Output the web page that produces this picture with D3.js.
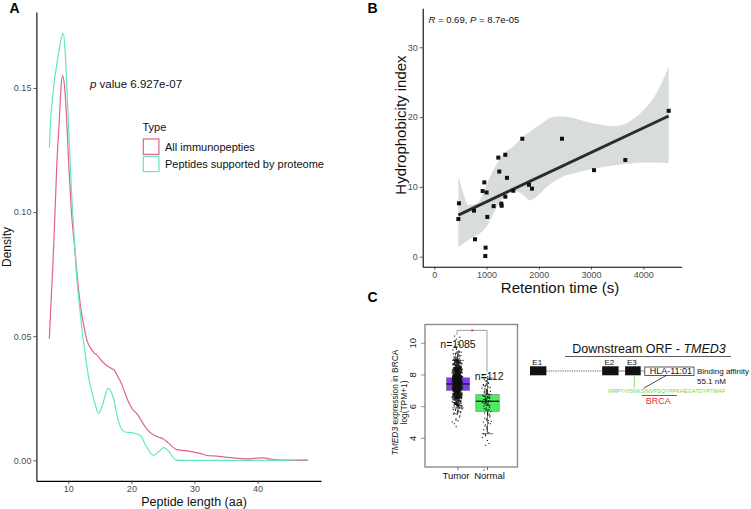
<!DOCTYPE html>
<html><head><meta charset="utf-8">
<script src="https://cdn.jsdelivr.net/npm/d3@7"></script>
<style>body{margin:0;background:#fff;} svg{display:block;font-family:"Liberation Sans",Arial,sans-serif;}</style>
</head><body><svg id="c" width="751" height="509"></svg>
<script>
// ---------- Panel A data ----------
const allLen = [7,7.3,7.6,7.9,8.2,8.58,8.85,9.1,9.4,9.75,10.1,10.5,11.06,11.5,12.0,12.4,13.0,13.4,14.0,14.7,15.3,16.0,16.7,17.3,17.8,18.4,19.0,19.5,20.2,20.8,21.3,21.8,22.5,23.4,24.2,25.0,25.6,26.1,26.6,27.1,28.0,28.7,29.5,30.3,31.1,31.9,32.7,33.5,34.8,36.1,37.5,38.8,40.0,40.9,41.7,42.5,44,46,48];
const allDensity = [0.049,0.065,0.081,0.100,0.120,0.137,0.150,0.155,0.151,0.137,0.118,0.100,0.0845,0.072,0.061,0.0552,0.048,0.0458,0.0435,0.042,0.040,0.0384,0.0372,0.0362,0.034,0.031,0.027,0.0238,0.0205,0.019,0.0172,0.015,0.0125,0.0104,0.0094,0.0087,0.0076,0.0064,0.0052,0.0044,0.0040,0.0038,0.0035,0.0031,0.0026,0.0020,0.0018,0.0017,0.0013,0.0010,0.0007,0.0006,0.0009,0.0010,0.0007,0.0003,0.0001,0.0,0.0];
const protLen = [7,7.2,7.47,7.8,8.16,8.6,9.0,9.2,9.5,9.75,10.0,10.3,10.6,10.75,11.06,11.4,11.8,12.2,12.6,13.0,13.4,13.8,14.2,14.8,15.5,16.3,17.1,17.9,18.9,20.3,21.4,22.4,23.5,24.3,25.1,26.0,27.0,28.0,35,42,48];
const protDensity = [0.126,0.137,0.145,0.153,0.159,0.166,0.171,0.172,0.165,0.152,0.137,0.120,0.104,0.098,0.0845,0.072,0.062,0.052,0.0445,0.037,0.031,0.027,0.023,0.019,0.023,0.029,0.0256,0.0162,0.0115,0.011,0.0101,0.0054,0.0020,0.0034,0.0051,0.0034,0.0002,0.0,0.0,0.0,0.0003];
const typeLabels = ["All immunopepties", "Peptides supported by proteome"];
const densityTicks = [0, 0.05, 0.10, 0.15];
const lengthTicks = [10, 20, 30, 40];

// ---------- Panel B data ----------
const retentionTime = [460,472,760,779,925,957,976,982,1001,1014,1136,1225,1244,1282,1289,1359,1359,1391,1512,1684,1812,1870,2444,3057,3656,4486];
const hydrophobicity = [5.4,7.65,6.6,2.5,9.4,10.65,0.1,1.3,9.2,5.7,7.25,14.2,12.2,7.6,7.3,14.6,8.6,11.3,9.45,16.9,10.3,9.75,16.9,12.4,13.85,20.9];
const fitTime = [460, 4486];
const fitIndex = [5.97, 20.16];
const bandTime = [460,560,650,760,875,1000,1160,1320,1512,1700,1830,1960,2150,2300,2470,2700,2920,3200,3430,3700,3940,4250,4486];
const bandLow  = [1.4,1.9,2.4,2.9,3.35,4.3,6.6,8.5,9.5,8.85,8.1,8.6,10.0,10.8,11.5,12.0,12.4,12.8,13.1,13.3,13.5,13.5,13.4];
const bandHigh = [11.6,9.0,7.4,7.5,8.1,10.3,12.8,14.7,15.8,17.2,17.9,18.6,19.6,20.05,20.1,19.8,19.3,18.9,18.7,19.2,20.5,23.4,27.2];
const timeTicks = [0, 1000, 2000, 3000, 4000];
const indexTicks = [0, 10, 20, 30];

// ---------- Panel C data ----------
const groups = ["Tumor", "Normal"];
const groupN = [1085, 112];
const boxQ1 = [7.02, 5.70];
const boxMedian = [7.43, 6.34];
const boxQ3 = [7.82, 6.76];
const whiskerLow = [5.92, 4.29];
const whiskerHigh = [8.92, 7.8];
const binStart = [2,2.5,3,3.5,4,4.5,5,5.5,6,6.5,7,7.5,8,8.5,9,9.5,10];
const tumorCounts  = [0,0,0,0,0,2,6,20,60,160,290,280,160,70,25,8,4];
const normalCounts = [1,0,0,3,6,8,9,14,24,25,14,8,0,0,0,0,0];
const exprTicks = [4, 6, 8, 10];
const exonNames = ["E1", "E2", "E3"];
const exonStart = [0, 44, 58];
const exonEnd = [10, 54, 67.5];
const hlaAllele = "HLA-11:01";
const peptideSeq = "MRPYVISNKSINVPSQYPPKHEGATDYPTWAF";

// ---------- drawing ----------
const svg = d3.select("#c");
const FONT = '"Liberation Sans", Arial, sans-serif';
const red = "#e4628a", cyan = "#62e6c6";

// ===== Panel A =====
const xA = d3.scaleLinear().domain([4.95, 50.05]).range([36.4, 321]);
const yA = d3.scaleLinear().domain([-0.0083, 0.1806]).range([480.9, 12]);
const gA = svg.append("g");
function styleAxis(g) {
  g.select(".domain").attr("stroke", "#000").attr("stroke-width", 1.1);
  g.selectAll(".tick line").attr("stroke", "#333").attr("stroke-width", 0.8);
  g.selectAll(".tick text").attr("fill", "#4d4d4d").style("font-size", "9px").style("font-family", FONT);
}
gA.append("g").attr("transform", "translate(36.4,0)")
  .call(d3.axisLeft(yA).tickValues(densityTicks).tickFormat(d3.format(".2f")).tickSize(3).tickSizeOuter(0).tickPadding(2))
  .call(styleAxis);
gA.append("g").attr("transform", "translate(0,480.9)")
  .call(d3.axisBottom(xA).tickValues(lengthTicks).tickFormat(d3.format("d")).tickSize(3).tickSizeOuter(0).tickPadding(2))
  .call(styleAxis);
const lineA = d3.line().curve(d3.curveMonotoneX);
gA.append("path").attr("d", lineA(allLen.map((v, i) => [xA(v), yA(allDensity[i])])))
  .attr("fill", "none").attr("stroke", red).attr("stroke-width", 1.2);
gA.append("path").attr("d", lineA(protLen.map((v, i) => [xA(v), yA(protDensity[i])])))
  .attr("fill", "none").attr("stroke", cyan).attr("stroke-width", 1.2);
const pText = gA.append("text").attr("x", 90).attr("y", 87.5).style("font-size", "11.5px").attr("fill", "#111");
pText.append("tspan").style("font-style", "italic").text("p");
pText.append("tspan").text(" value 6.927e-07");
gA.append("text").attr("x", 142.5).attr("y", 131).style("font-size", "11px").attr("fill", "#111").text("Type");
[red, cyan].forEach((c, i) => {
  gA.append("rect").attr("x", 143.3).attr("y", 139 + i * 17.3).attr("width", 15.6).attr("height", 15.3)
    .attr("fill", "#fff").attr("stroke", c).attr("stroke-width", 1.2);
  gA.append("text").attr("x", 165).attr("y", 150.5 + i * 17.3).style("font-size", "11px").attr("fill", "#111").text(typeLabels[i]);
});
gA.append("text").attr("transform", "translate(10.5,247) rotate(-90)").attr("text-anchor", "middle")
  .style("font-size", "12px").attr("fill", "#111").text("Density");
gA.append("text").attr("x", 194).attr("y", 506).attr("text-anchor", "middle")
  .style("font-size", "12.5px").attr("fill", "#111").text("Peptide length (aa)");
svg.append("text").attr("x", 9.5).attr("y", 12.5).style("font-size", "14px").style("font-weight", "bold").text("A");

// ===== Panel B =====
const xB = d3.scaleLinear().domain([-222, 4735]).range([422.7, 681.7]);
const yB = d3.scaleLinear().domain([-1.43, 35.6]).range([266.7, 8.2]);
const gB = svg.append("g");
gB.append("path")
  .attr("d", d3.area().curve(d3.curveMonotoneX).x((d, i) => xB(d)).y0((d, i) => yB(bandLow[i])).y1((d, i) => yB(bandHigh[i]))(bandTime))
  .attr("fill", "#d8dcdc");
gB.append("line").attr("x1", xB(fitTime[0])).attr("y1", yB(fitIndex[0])).attr("x2", xB(fitTime[1])).attr("y2", yB(fitIndex[1]))
  .attr("stroke", "#2b2b2b").attr("stroke-width", 3);
gB.selectAll("rect.pt").data(retentionTime).join("rect").attr("class", "pt")
  .attr("x", d => xB(d) - 2).attr("y", (d, i) => yB(hydrophobicity[i]) - 2).attr("width", 4).attr("height", 4).attr("fill", "#111");
gB.append("g").attr("transform", "translate(422.7,0)")
  .call(d3.axisLeft(yB).tickValues(indexTicks).tickFormat(d3.format("d")).tickSize(3).tickSizeOuter(0).tickPadding(2)).call(styleAxis);
gB.append("g").attr("transform", "translate(0,266.7)")
  .call(d3.axisBottom(xB).tickValues(timeTicks).tickFormat(d3.format("d")).tickSize(3).tickSizeOuter(0).tickPadding(2)).call(styleAxis);
const rText = gB.append("text").attr("x", 428.5).attr("y", 23).style("font-size", "9.5px").attr("fill", "#111");
rText.append("tspan").style("font-style", "italic").text("R");
rText.append("tspan").text(" = 0.69, ");
rText.append("tspan").style("font-style", "italic").text("P");
rText.append("tspan").text(" = 8.7e-05");
gB.append("text").attr("transform", "translate(406,125) rotate(-90)").attr("text-anchor", "middle")
  .style("font-size", "15px").attr("fill", "#111").text("Hydrophobicity index");
gB.append("text").attr("x", 560).attr("y", 293).attr("text-anchor", "middle")
  .style("font-size", "15px").attr("fill", "#111").text("Retention time (s)");
svg.append("text").attr("x", 367.5).attr("y", 12.5).style("font-size", "14px").style("font-weight", "bold").text("B");
svg.append("text").attr("x", 367.5).attr("y", 302).style("font-size", "14px").style("font-weight", "bold").text("C");

// ===== Panel C: box plot =====
const gC = svg.append("g");
const yC = d3.scaleLinear().domain([4, 10]).range([438.3, 343.3]);
const xC = d3.scalePoint().domain(groups).range([458, 487.5]);
const boxFill = ["#7c3ff0", "#4cec62"];
const boxW = 23.4;
gC.append("rect").attr("x", 425).attr("y", 324.5).attr("width", 92.5).attr("height", 142.5)
  .attr("fill", "#fff").attr("stroke", "#8c8c8c").attr("stroke-width", 1.4);
exprTicks.forEach(t => {
  gC.append("line").attr("x1", 421).attr("x2", 425).attr("y1", yC(t)).attr("y2", yC(t)).attr("stroke", "#666").attr("stroke-width", 0.7);
  gC.append("text").attr("transform", `translate(415.5,${yC(t)}) rotate(-90)`).attr("text-anchor", "middle")
    .style("font-size", "9.5px").attr("fill", "#222").text(t);
});
const yt = gC.append("text").attr("transform", "translate(398,402.5) rotate(-90)").attr("text-anchor", "middle")
  .style("font-size", "8.4px").attr("fill", "#222");
yt.append("tspan").style("font-style", "italic").text("TMED3");
yt.append("tspan").text(" expression in BRCA");
gC.append("text").attr("transform", "translate(407,402.5) rotate(-90)").attr("text-anchor", "middle")
  .style("font-size", "8.4px").attr("fill", "#222").text("log(TPM+1)");
groups.forEach((g, i) => {
  const cx = xC(g);
  gC.append("line").attr("x1", cx).attr("x2", cx).attr("y1", 467).attr("y2", 470).attr("stroke", "#666");
  gC.append("text").attr("x", cx - (i === 0 ? 2 : -2)).attr("y", 478.8).attr("text-anchor", "middle")
    .style("font-size", "9.5px").attr("fill", "#111").text(g);
  gC.append("line").attr("x1", cx).attr("x2", cx).attr("y1", yC(whiskerLow[i])).attr("y2", yC(whiskerHigh[i])).attr("stroke", "#222").attr("stroke-width", 0.6);
  [whiskerLow[i], whiskerHigh[i]].forEach(v => gC.append("line").attr("x1", cx - 6).attr("x2", cx + 6).attr("y1", yC(v)).attr("y2", yC(v)).attr("stroke", "#222").attr("stroke-width", 0.6));
  gC.append("rect").attr("x", cx - boxW / 2).attr("y", yC(boxQ3[i])).attr("width", boxW).attr("height", yC(boxQ1[i]) - yC(boxQ3[i]))
    .attr("fill", boxFill[i]).attr("stroke", "#777").attr("stroke-width", 0.6);
});
// jittered dots from binned counts
function drawDots(counts, gi, w) {
  const cx = xC(groups[gi]) - 0.8;
  let k = 0;
  counts.forEach((c, b) => {
    for (let j = 0; j < c; j++, k++) {
      const v = binStart[b] + ((j * 0.618034 + b * 0.37) % 1) * 0.5;
      const u = ((k * 0.7548776 + 0.31) % 1) - 0.5;
      const u2 = ((k * 0.5698403 + 0.17) % 1) - 0.5;
      gC.append("rect").attr("x", cx + (u + u2) * w * 0.5 - 0.5).attr("y", yC(v) - 0.5).attr("width", 1.1).attr("height", 1.1).attr("fill", "#111");
    }
  });
}
drawDots(tumorCounts, 0, 11);
drawDots(normalCounts, 1, 10);
groups.forEach((g, i) => {
  const cx = xC(g);
  gC.append("line").attr("x1", cx - boxW / 2).attr("x2", cx + boxW / 2).attr("y1", yC(boxMedian[i])).attr("y2", yC(boxMedian[i])).attr("stroke", "#111").attr("stroke-width", 1.2);
});
gC.append("text").attr("x", 458).attr("y", 347.5).attr("text-anchor", "middle").style("font-size", "10.5px").attr("fill", "#111").text("n=" + groupN[0]);
gC.append("text").attr("x", 489.2).attr("y", 380).attr("text-anchor", "middle").style("font-size", "10.5px").attr("fill", "#111").text("n=" + groupN[1]);
gC.append("path").attr("d", `M${xC(groups[0]) - 1},335 V330.4 H${xC(groups[1]) - 0.5} V372`).attr("fill", "none").attr("stroke", "#888").attr("stroke-width", 0.8);
gC.append("text").attr("x", 472.3).attr("y", 334.3).attr("text-anchor", "middle").style("font-size", "8px").attr("fill", "#e02020").text("*");

// ===== Panel C: gene diagram =====
const gD = svg.append("g");
const xG = d3.scaleLinear().domain([0, 100]).range([530, 694]);
const title = gD.append("text").attr("x", 649).attr("y", 353.3).attr("text-anchor", "middle").style("font-size", "12.5px").attr("fill", "#111");
title.append("tspan").text("Downstream ORF - ");
title.append("tspan").style("font-style", "italic").text("TMED3");
gD.append("line").attr("x1", 565).attr("x2", 731).attr("y1", 356.5).attr("y2", 356.5).attr("stroke", "#333").attr("stroke-width", 0.8);
gD.append("line").attr("x1", xG(exonEnd[0])).attr("x2", xG(exonStart[1])).attr("y1", 371).attr("y2", 371)
  .attr("stroke", "#666").attr("stroke-width", 1).attr("stroke-dasharray", "1.3,1");
gD.append("line").attr("x1", xG(exonEnd[1])).attr("x2", xG(exonStart[2])).attr("y1", 371).attr("y2", 371).attr("stroke", "#666").attr("stroke-width", 0.8);
gD.append("line").attr("x1", xG(exonEnd[2])).attr("x2", xG(69.5)).attr("y1", 371).attr("y2", 371).attr("stroke", "#666").attr("stroke-width", 0.8);
exonNames.forEach((n, i) => {
  gD.append("rect").attr("x", xG(exonStart[i])).attr("y", 366.3).attr("width", xG(exonEnd[i]) - xG(exonStart[i])).attr("height", 9)
    .attr("fill", "#111");
  gD.append("text").attr("x", (xG(exonStart[i]) + xG(exonEnd[i])) / 2 - 1).attr("y", 364.5).attr("text-anchor", "middle")
    .style("font-size", "8px").attr("fill", "#111").text(n);
});
gD.append("rect").attr("x", xG(70)).attr("y", 367).attr("width", xG(100) - xG(70)).attr("height", 8.5)
  .attr("fill", "#fff").attr("stroke", "#333").attr("stroke-width", 0.8);
gD.append("text").attr("x", (xG(70) + xG(100)) / 2 + 1.5).attr("y", 374.4).attr("text-anchor", "middle")
  .style("font-size", "9px").attr("fill", "#111").text(hlaAllele);
gD.append("text").attr("x", 697).attr("y", 373.5).style("font-size", "8px").attr("fill", "#111").text("Binding affinity");
gD.append("text").attr("x", 697).attr("y", 383.5).style("font-size", "8px").attr("fill", "#111").text("55.1 nM");
gD.append("line").attr("x1", 634.3).attr("x2", 634.3).attr("y1", 375.5).attr("y2", 388).attr("stroke", "#6fd64a").attr("stroke-width", 0.8);
gD.append("line").attr("x1", 666.5).attr("x2", 643.5).attr("y1", 375.3).attr("y2", 388.3).attr("stroke", "#222").attr("stroke-width", 0.8);
gD.append("text").attr("x", 608.3).attr("y", 393).attr("textLength", 117).attr("lengthAdjust", "spacingAndGlyphs")
  .style("font-size", "5.6px").attr("fill", "#72d44c").text(peptideSeq);
gD.append("line").attr("x1", 641.7).attr("x2", 677).attr("y1", 395.5).attr("y2", 395.5).attr("stroke", "#e53030").attr("stroke-width", 1.1);
gD.append("text").attr("x", 658.3).attr("y", 403.6).attr("text-anchor", "middle").style("font-size", "9px").attr("fill", "#e53030").text("BRCA");
</script></body></html>
